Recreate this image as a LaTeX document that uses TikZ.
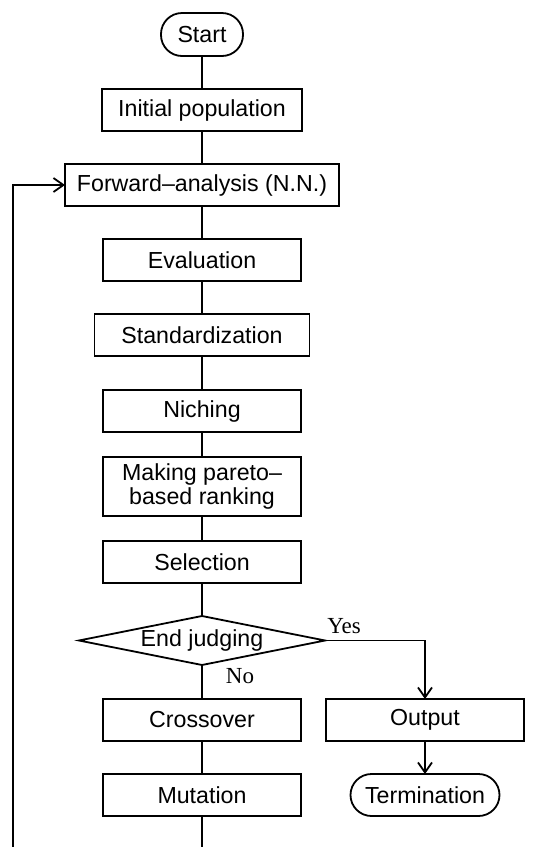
\documentclass[tikz,border=0pt]{standalone}
\usepackage{fontspec}
\setmainfont{Liberation Sans}
\newfontfamily\answerfont{Liberation Serif}
\usetikzlibrary{positioning, arrows.meta, shapes.geometric}

\tikzset{
    block/.style={draw, line width=.9pt, rectangle, align=center, inner sep=2pt, outer sep=0pt, minimum width=99pt, minimum height=21pt, font=\fontsize{11.6}{10.5}\selectfont},
    terminal/.style={block, rounded corners=10.5pt},
    decision/.style={block, diamond, aspect=5, inner sep=0pt, minimum width=123pt, minimum height=24.5pt},
    flow/.style={line width=.9pt},
    answer/.style={inner sep=0pt, font=\answerfont\fontsize{11.5}{12}\selectfont}
}

\begin{document}
\begin{tikzpicture}[x=.5pt, y=-.5pt, >={Straight Barb[length=5pt, width=7pt]}]
    \useasboundingbox (0, 0) rectangle (532, 847);

    \node (start) [terminal, minimum width=41pt, minimum height=21.5pt] at (202, 34.5) {Start};
    \node (init) [block, minimum width=100pt, below=16.5pt of start] {Initial population};
    \node (forward) [block, minimum width=137pt, below=16.5pt of init] {Forward–analysis (N.N.)};
    \node (eval) [block, below=16.5pt of forward] {Evaluation};
    \node (std) [block, minimum width=107.5pt, below=16.5pt of eval] {Standardization};
    \node (niche) [block, below=17pt of std] {Niching};
    \node (rank) [block, minimum height=29.5pt, below=12.5pt of niche] {Making pareto–\\based ranking};
    \node (select) [block, below=12.5pt of rank] {Selection};
    \node (judge) [decision, below=16.5pt of select] {End judging};
    \node (cross) [block, below=17pt of judge] {Crossover};
    \node (mutate) [block, below=16.5pt of cross] {Mutation};
    \node (output) [block, right=12.5pt of cross] {Output};
    \node (stop) [terminal, minimum width=74.5pt, below=16.5pt of output] {Termination};

    \node (yes) [answer] at (344, 626) {Yes};
    \node (no) [answer] at (240, 676) {No};

    \coordinate (loopin) at (12.7, 847);
    \coordinate (loopout) at (mutate.south |- loopin);

    \draw [flow] (start) -- (init);
    \draw [flow] (init) -- (forward);
    \draw [flow] (forward) -- (eval);
    \draw [flow] (eval) -- (std);
    \draw [flow] (std) -- (niche);
    \draw [flow] (niche) -- (rank);
    \draw [flow] (rank) -- (select);
    \draw [flow] (select) -- (judge);
    \draw [flow] (judge) -- (cross);
    \draw [flow] (cross) -- (mutate);
    \draw [flow, ->] (judge.east) -| (output.north);
    \draw [flow, ->] (output) -- (stop);
    \draw [flow] (mutate.south) -- (loopout);
    \draw [flow, ->] (loopin) |- (forward.west);
\end{tikzpicture}
\end{document}
